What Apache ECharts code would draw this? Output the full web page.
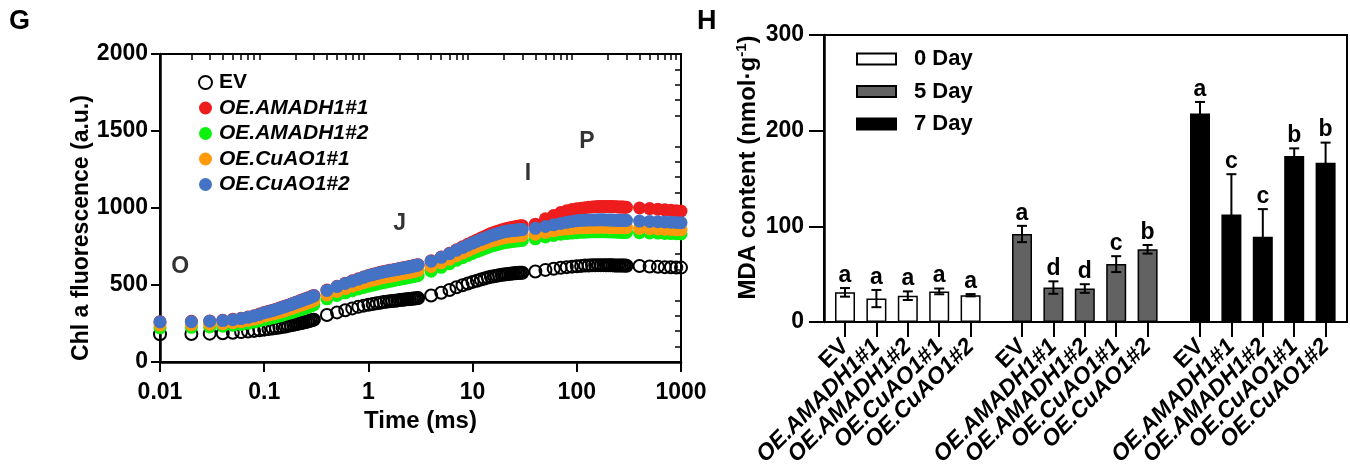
<!DOCTYPE html>
<html><head><meta charset="utf-8">
<script src="https://cdn.jsdelivr.net/npm/echarts@6/dist/echarts.min.js"></script>
<style>html,body{margin:0;padding:0;background:#fff}#c{width:1350px;height:475px}</style>
</head><body><div id="c"></div>
<script>
// ---------- Panel G: OJIP chlorophyll a fluorescence ----------
const timeMs = [
  0.01,0.02,0.03,0.04,0.05,0.06,0.07,0.08,0.09,0.10,0.11,0.12,0.13,0.14,0.15,0.16,0.17,0.18,0.19,0.20,0.21,0.22,0.23,0.24,0.25,0.26,0.27,0.28,0.29,0.30,
  0.4,0.5,0.6,0.7,0.8,0.9,1.0,1.1,1.2,1.3,1.4,1.5,1.6,1.7,1.8,1.9,2.0,2.1,2.2,2.3,2.4,2.5,2.6,2.7,2.8,2.9,3.0,
  4,5,6,7,8,9,10,11,12,13,14,15,16,17,18,19,20,21,22,23,24,25,26,27,28,29,30,
  40,50,60,70,80,90,100,110,120,130,140,150,160,170,180,190,200,210,220,230,240,250,260,270,280,290,300,
  400,500,600,700,800,900,1000
];
const fluorEV = [
  180,182,184,187,190,194,198,202,206,210,214,217,221,224,228,231,235,238,242,245,248,251,254,257,260,263,266,269,272,275,
  305,322,336,348,358,366,372,377,381,385,389,392,394,396,398,400,402,404,405,407,408,409,411,412,413,414,415,
  432,450,468,485,498,510,520,528,535,542,548,553,557,560,563,566,568,570,572,573,575,576,577,578,579,580,580,
  588,598,606,612,616,619,622,624,626,627,628,628,629,629,629,628,628,628,628,627,627,627,626,626,626,626,625,
  623,620,618,616,615,614,613
];
const fluorAMADH1_1 = [
  262,264,267,271,277,284,292,301,311,322,329,336,343,350,357,363,369,375,381,387,392,397,402,406,411,415,419,423,428,432,
  467,492,512,527,540,552,562,569,576,582,587,591,595,598,601,604,607,610,612,615,617,620,622,625,627,630,632,
  657,682,706,729,748,765,780,793,805,815,825,835,841,847,852,857,862,865,869,872,874,877,879,881,882,884,885,
  895,930,952,970,982,990,995,999,1002,1005,1007,1008,1009,1010,1010,1010,1010,1009,1009,1008,1008,1007,1007,1006,1006,1005,1005,
  1000,996,992,988,985,982,980
];
const fluorAMADH1_2 = [
  222,225,228,232,238,244,251,259,267,275,281,287,293,298,304,310,315,320,325,330,335,339,343,347,352,356,360,364,368,372,
  410,432,449,463,474,484,492,499,505,511,516,520,524,528,531,535,538,541,543,546,548,551,553,556,558,560,562,
  590,615,638,660,677,692,705,717,727,736,744,752,757,762,767,771,775,777,779,781,783,785,786,787,788,789,790,
  800,812,822,830,834,837,840,842,843,844,845,845,845,846,846,845,845,845,844,844,844,843,843,843,842,842,842,
  840,838,837,835,834,833,832
];
const fluorCuAO1_1 = [
  240,242,245,249,255,262,270,279,288,298,305,311,317,323,329,335,341,347,352,358,363,367,372,376,380,384,388,392,396,400,
  435,458,477,492,504,515,525,532,538,544,549,553,556,560,563,567,570,573,575,578,580,583,585,588,590,593,595,
  620,645,668,690,707,723,738,750,761,770,778,785,790,795,800,804,808,810,812,814,816,817,818,819,820,821,822,
  830,842,852,860,864,867,870,872,873,874,875,875,875,876,876,875,875,875,874,874,874,873,873,873,872,872,872,
  868,866,864,862,861,859,858
];
const fluorCuAO1_2 = [
  260,262,265,269,275,282,290,299,309,320,327,334,341,348,355,361,367,373,379,385,390,395,400,404,409,413,417,421,426,430,
  465,490,510,525,538,550,560,567,574,580,585,589,593,596,599,602,605,608,610,613,615,618,620,623,625,628,630,
  655,680,703,725,743,758,772,784,795,804,812,820,826,831,836,841,845,848,850,852,854,855,856,857,858,859,860,
  868,880,891,900,907,913,918,920,921,922,922,922,923,923,923,922,922,922,922,921,921,921,921,920,920,920,920,
  915,913,911,909,908,906,905
];
const fluorSeriesNames = ['EV','OE.AMADH1#1','OE.AMADH1#2','OE.CuAO1#1','OE.CuAO1#2'];
const fluorColors = ['#000000','#ee1d1d','#0ef00e','#ff9a0a','#4472c4'];
const xDecades = [0.01,0.1,1,10,100,1000];
const xMinorMultipliers = [2,3,4,5,6,7,8,9];
const yMinorTicks = [100,200,300,400,600,700,800,900,1100,1200,1300,1400,1600,1700,1800,1900];

// ---------- Panel H: MDA content ----------
const mdaCategories = ['EV','OE.AMADH1#1','OE.AMADH1#2','OE.CuAO1#1','OE.CuAO1#2'];
const mdaDay0 = [31,24.5,27.5,32,28];
const mdaDay0Err = [4.5,9,4.5,3,1.2];
const mdaDay0Sig = ['a','a','a','a','a'];
const mdaDay5 = [92,36,35,60.5,76];
const mdaDay5Err = [8.5,6.5,4.5,8.3,4.5];
const mdaDay5Sig = ['a','d','d','c','b'];
const mdaDay7 = [218,112.5,89,173.5,166.5];
const mdaDay7Err = [12,42,29,8,21];
const mdaDay7Sig = ['a','c','c','b','b'];
const dayNames = ['0 Day','5 Day','7 Day'];

const FONT = "'Liberation Sans', Arial, Helvetica, sans-serif";
const chart = echarts.init(document.getElementById('c'), null, {renderer:'canvas'});

const fluorData = [fluorEV, fluorAMADH1_1, fluorAMADH1_2, fluorCuAO1_1, fluorCuAO1_2];
const xMinorTicks = [];
xDecades.slice(0, -1).forEach(d => xMinorMultipliers.forEach(m => xMinorTicks.push(+(d * m).toPrecision(6))));

const scatterSeries = fluorData.map((vals, k) => ({
  name: fluorSeriesNames[k],
  type: 'scatter',
  xAxisIndex: 0, yAxisIndex: 0,
  symbol: 'circle',
  symbolSize: k === 0 ? 12 : 13,
  itemStyle: k === 0
    ? {color: 'rgba(255,255,255,0)', borderColor: '#000', borderWidth: 2, opacity: 1}
    : {color: fluorColors[k], opacity: 1},
  emphasis: {disabled: true},
  data: timeMs.map((t, i) => [t, vals[i]]),
  z: 3
}));

function italicName(v) { return v === 'EV' ? '{n|EV}' : '{i|' + v + '}'; }

function makeErr(values, errs, sigs, xIdx, yIdx) {
  return {
    type: 'custom',
    xAxisIndex: xIdx, yAxisIndex: yIdx,
    data: values.map((v, i) => [i, v, errs[i]]),
    encode: {x: 0, y: 1},
    z: 5,
    silent: true,
    renderItem: function (params, api) {
      const x = api.value(0), v = api.value(1), e = api.value(2);
      const top = api.coord([x, v + e]);
      const bot = api.coord([x, v - e]);
      const hw = 5;
      const ls = {stroke: '#000', lineWidth: 2};
      return {
        type: 'group',
        children: [
          {type: 'line', shape: {x1: top[0], y1: top[1], x2: bot[0], y2: bot[1]}, style: ls},
          {type: 'line', shape: {x1: top[0] - hw, y1: top[1], x2: top[0] + hw, y2: top[1]}, style: ls},
          {type: 'line', shape: {x1: bot[0] - hw, y1: bot[1], x2: bot[0] + hw, y2: bot[1]}, style: ls},
          {type: 'text', style: {x: top[0], y: top[1] - 1, text: sigs[params.dataIndex],
            align: 'center', verticalAlign: 'bottom', fill: '#000',
            font: 'bold 23px ' + FONT}}
        ]
      };
    }
  };
}

const barGridLefts = [829.3, 1006.3, 1184.3];
const barGrids = barGridLefts.map(l => ({left: l, top: 35, width: 157, height: 287}));
const barX = barGridLefts.map((l, k) => ({
  type: 'category', gridIndex: 2 + k, data: mdaCategories,
  axisLine: {show: false},
  axisTick: {show: true, alignWithLabel: true, interval: 0, length: 15, lineStyle: {color: '#000', width: 2}},
  axisLabel: {rotate: 45, margin: 21, interval: 0, hideOverlap: false, color: '#000', formatter: italicName,
    rich: {n: {fontFamily: FONT, fontWeight: 'bold', fontSize: 23, color: '#000'},
           i: {fontFamily: FONT, fontWeight: 'bold', fontStyle: 'italic', fontSize: 23, color: '#000'}}},
  splitLine: {show: false}
}));
const barY = barGridLefts.map((l, k) => ({type: 'value', gridIndex: 2 + k, min: 0, max: 300, show: false}));

// axis indices: xAxis 0-2 -> grid0, 3 -> grid1, 4-6 -> bar grids; yAxis 0-1 -> grid0, 2 -> grid1, 3-5 -> bar grids
const barColors = ['#ffffff', '#626262', '#000000'];
const barVals = [mdaDay0, mdaDay5, mdaDay7];
const barSeries = barVals.map((vals, k) => ({
  name: dayNames[k], type: 'bar', xAxisIndex: 4 + k, yAxisIndex: 3 + k,
  data: vals, barWidth: 20,
  itemStyle: {color: barColors[k], borderColor: '#000', borderWidth: 1.5},
  emphasis: {disabled: true}, z: 2
}));

const option = {
  animation: false,
  backgroundColor: '#fff',
  textStyle: {fontFamily: FONT},
  graphic: [
    {type: 'text', left: 9, top: 8, style: {text: 'G', font: 'bold 27px ' + FONT, fill: '#000'}},
    {type: 'text', left: 697, top: 8, style: {text: 'H', font: 'bold 27px ' + FONT, fill: '#000'}}
  ],
  grid: [
    {left: 160, top: 54, width: 521, height: 308, show: true, borderColor: '#000', borderWidth: 2, backgroundColor: 'transparent'},
    {left: 824, top: 35, width: 523, height: 287, show: true, borderColor: '#000', borderWidth: 2, backgroundColor: 'transparent'}
  ].concat(barGrids),
  legend: [
    {
      data: fluorSeriesNames, orient: 'vertical', left: 193, top: 67, itemGap: 4.5,
      itemWidth: 13, itemHeight: 13, selectedMode: false,
      formatter: italicName,
      textStyle: {color: '#000', padding: [0, 0, 0, 2],
        rich: {n: {fontFamily: FONT, fontWeight: 'bold', fontSize: 21, color: '#000'},
               i: {fontFamily: FONT, fontWeight: 'bold', fontStyle: 'italic', fontSize: 21, color: '#000'}}}
    },
    {
      data: dayNames, orient: 'vertical', left: 851, top: 43, itemGap: 10.5,
      itemWidth: 39, itemHeight: 11, icon: 'rect', selectedMode: false,
      textStyle: {color: '#000', fontFamily: FONT, fontWeight: 'bold', fontSize: 22, padding: [0, 0, 0, 13]}
    }
  ],
  xAxis: [
    { // main log axis
      type: 'log', logBase: 10, gridIndex: 0, min: 0.01, max: 1000,
      name: 'Time (ms)', nameLocation: 'middle', nameGap: 45,
      nameTextStyle: {color: '#000', fontFamily: FONT, fontWeight: 'bold', fontSize: 24},
      axisLine: {lineStyle: {color: '#000', width: 2.5}},
      axisTick: {length: 10, lineStyle: {color: '#000', width: 2}},
      axisLabel: {color: '#000', fontFamily: FONT, fontWeight: 'bold', fontSize: 23, margin: 19,
        formatter: v => String(+(+v).toPrecision(6))},
      splitLine: {show: false}, minorTick: {show: false}
    },
    { // inside major ticks
      type: 'log', logBase: 10, gridIndex: 0, min: 0.01, max: 1000,
      axisLine: {show: false}, axisLabel: {show: false}, splitLine: {show: false},
      axisTick: {inside: true, length: 9, lineStyle: {color: '#000', width: 2}, customValues: xDecades}
    },
    { // inside minor ticks
      type: 'log', logBase: 10, gridIndex: 0, min: 0.01, max: 1000,
      axisLine: {show: false}, axisLabel: {show: false}, splitLine: {show: false},
      axisTick: {inside: true, length: 6, lineStyle: {color: '#000', width: 1.5}, customValues: xMinorTicks}
    },
    {type: 'value', gridIndex: 1, min: 0, max: 1, show: false}
  ].concat(barX),
  yAxis: [
    {
      type: 'value', gridIndex: 0, min: 0, max: 2000, interval: 500,
      name: 'Chl a fluorescence (a.u.)', nameLocation: 'middle', nameGap: 66, nameRotate: 90,
      nameTextStyle: {color: '#000', fontFamily: FONT, fontWeight: 'bold', fontSize: 23, padding: [0, 40, 0, 0]},
      axisLine: {show: true, lineStyle: {color: '#000', width: 2.5}},
      axisTick: {show: true, length: 9, lineStyle: {color: '#000', width: 2}},
      axisLabel: {color: '#000', fontFamily: FONT, fontWeight: 'bold', fontSize: 23, margin: 12,
        formatter: v => String(v)},
      splitLine: {show: false}
    },
    {
      type: 'value', gridIndex: 0, min: 0, max: 2000, interval: 100,
      axisLine: {show: false}, axisLabel: {show: false}, splitLine: {show: false},
      axisTick: {show: true, inside: true, length: 6, lineStyle: {color: '#000', width: 1.5}, customValues: yMinorTicks}
    },
    {
      type: 'value', gridIndex: 1, min: 0, max: 300, interval: 100,
      name: '{n|MDA content (nmol·g}{s|-1}{n|)}', nameLocation: 'middle', nameGap: 62, nameRotate: 90,
      nameTextStyle: {color: '#000', padding: [0, 0, 0, 22],
        rich: {n: {fontFamily: FONT, fontWeight: 'bold', fontSize: 24, color: '#000', lineHeight: 28},
               s: {fontFamily: FONT, fontWeight: 'bold', fontSize: 15, color: '#000', verticalAlign: 'top', lineHeight: 15}}},
      axisLine: {show: true, lineStyle: {color: '#000', width: 2.5}},
      axisTick: {show: true, length: 15, lineStyle: {color: '#000', width: 2}},
      axisLabel: {color: '#000', fontFamily: FONT, fontWeight: 'bold', fontSize: 23, margin: 20},
      splitLine: {show: false}
    }
  ].concat(barY),
  series: scatterSeries.concat([
    {
      name: 'OJIP', type: 'scatter', xAxisIndex: 0, yAxisIndex: 0, symbolSize: 0, silent: true, z: 4,
      label: {show: true, position: 'inside', formatter: '{b}', color: '#000',
        fontFamily: FONT, fontWeight: 'bold', fontSize: 23},
      data: [
        {name: 'O', value: [0.0156, 617]},
        {name: 'J', value: [2.0, 896]},
        {name: 'I', value: [34, 1220]},
        {name: 'P', value: [125, 1428]}
      ]
    }
  ]).concat(barSeries).concat([
    makeErr(mdaDay0, mdaDay0Err, mdaDay0Sig, 4, 3),
    makeErr(mdaDay5, mdaDay5Err, mdaDay5Sig, 5, 4),
    makeErr(mdaDay7, mdaDay7Err, mdaDay7Sig, 6, 5)
  ])
};
chart.setOption(option);
</script>
</body></html>
